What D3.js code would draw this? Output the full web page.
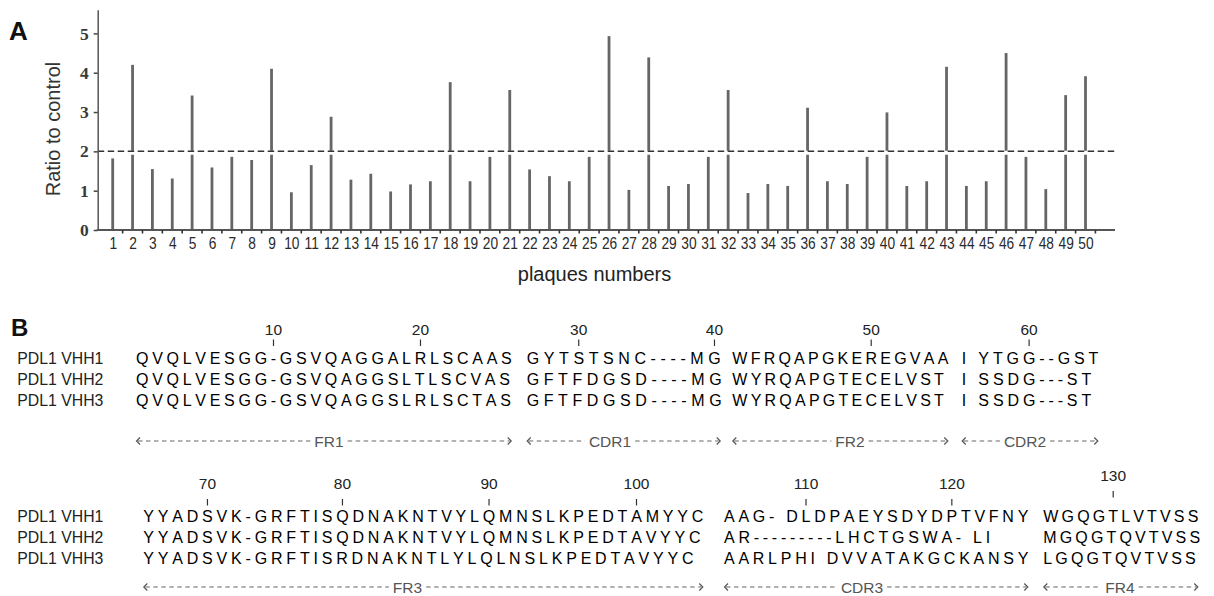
<!DOCTYPE html>
<html>
<head>
<meta charset="utf-8">
<script src="https://cdn.jsdelivr.net/npm/d3@7/dist/d3.min.js"></script>
<style>
  body { margin: 0; background: #fff; }
  svg { display: block; font-family: "Liberation Sans", Arial, sans-serif; }
</style>
</head>
<body>
<svg id="chart" width="1214" height="596"></svg>
<script>
// ---------- Panel A data ----------
const plaques = [1, 2, 3, 4, 5, 6, 7, 8, 9, 10, 11, 12, 13, 14, 15, 16, 17, 18, 19, 20,
  21, 22, 23, 24, 25, 26, 27, 28, 29, 30, 31, 32, 33, 34, 35, 36, 37, 38, 39, 40,
  41, 42, 43, 44, 45, 46, 47, 48, 49, 50];
const ratios = [1.82, 4.20, 1.55, 1.31, 3.42, 1.59, 1.86, 1.78, 4.10, 0.96,
  1.65, 2.88, 1.28, 1.43, 0.98, 1.16, 1.24, 3.76, 1.24, 1.86,
  3.56, 1.54, 1.37, 1.24, 1.86, 4.93, 1.02, 4.39, 1.12, 1.17,
  1.86, 3.56, 0.94, 1.17, 1.12, 3.11, 1.24, 1.17, 1.86, 2.99,
  1.12, 1.24, 4.15, 1.12, 1.24, 4.50, 1.86, 1.04, 3.43, 3.91];
const threshold = 2;
const yTicks = [0, 1, 2, 3, 4, 5];

// ---------- Panel B data ----------
const cloneNames = ["PDL1 VHH1", "PDL1 VHH2", "PDL1 VHH3"];
const regions = ["FR1", "CDR1", "FR2", "CDR2", "FR3", "CDR3", "FR4"];
const regionStart = [1, 27, 41, 56, 66, 105, 126];
const vhh1 = ["QVQLVESGG-GSVQAGGALRLSCAAS", "GYTSTSNC----MG", "WFRQAPGKEREGVAA", "I YTGG--GST",
  "YYADSVK-GRFTISQDNAKNTVYLQMNSLKPEDTAMYYC", "AAG- DLDPAEYSDYDPTVFNY", "WGQGTLVTVSS"];
const vhh2 = ["QVQLVESGG-GSVQAGGSLTLSCVAS", "GFTFDGSD----MG", "WYRQAPGTECELVST", "I SSDG---ST",
  "YYADSVK-GRFTISQDNAKNTVYLQMNSLKPEDTAVYYC", "AR---------LHCTGSWA- LI", "MGQGTQVTVSS"];
const vhh3 = ["QVQLVESGG-GSVQAGGSLRLSCTAS", "GFTFDGSD----MG", "WYRQAPGTECELVST", "I SSDG---ST",
  "YYADSVK-GRFTISRDNAKNTLYLQLNSLKPEDTAVYYC", "AARLPHI DVVATAKGCKANSY", "LGQGTQVTVSS"];
const rulerNumbers = [10, 20, 30, 40, 50, 60, 70, 80, 90, 100, 110, 120, 130];

// ---------- layout ----------
const svg = d3.select("#chart");

// Panel A
const x = d3.scalePoint().domain(plaques).range([112.7, 1085.5]);
const y = d3.scaleLinear().domain([0, 5.6]).range([230, 9.8]);
const axisLeftX = 97.7, axisRightX = 1115;

const gA = svg.append("g");

gA.append("text").attr("x", 9).attr("y", 39.5)
  .attr("font-size", 26).attr("font-weight", "bold").attr("fill", "#111").text("A");

// bars
gA.append("g").selectAll("rect")
  .data(plaques)
  .join("rect")
  .attr("x", d => x(d) - 1.4)
  .attr("width", 2.8)
  .attr("y", (d, i) => y(ratios[i]))
  .attr("height", (d, i) => y(0) - y(ratios[i]))
  .attr("fill", "#666");

// threshold line: white gap then dashes
gA.append("line")
  .attr("x1", axisLeftX + 1.5).attr("x2", axisRightX)
  .attr("y1", y(threshold) + 1.4).attr("y2", y(threshold) + 1.4)
  .attr("stroke", "#fff").attr("stroke-width", 4.2);
gA.append("line")
  .attr("x1", axisLeftX).attr("x2", axisRightX)
  .attr("y1", y(threshold)).attr("y2", y(threshold))
  .attr("stroke", "#333").attr("stroke-width", 1.5)
  .attr("stroke-dasharray", "6.5,3.5");

// y axis
const yAxis = gA.append("g")
  .attr("transform", `translate(${axisLeftX},0)`)
  .call(d3.axisLeft(y).tickValues(yTicks).tickSize(4).tickSizeOuter(0).tickPadding(5).tickFormat(d3.format("d")));
yAxis.select(".domain").attr("stroke", "#555").attr("stroke-width", 1.5);
yAxis.selectAll(".tick line").attr("stroke", "#444").attr("stroke-width", 1.5);
yAxis.selectAll(".tick text")
  .attr("font-family", "'Liberation Serif', 'Times New Roman', serif")
  .attr("font-weight", "bold").attr("font-size", 17.5).attr("fill", "#3a3a3a");

// x axis
gA.append("line")
  .attr("x1", axisLeftX - 1).attr("x2", axisRightX)
  .attr("y1", y(0)).attr("y2", y(0))
  .attr("stroke", "#555").attr("stroke-width", 2);
gA.append("g").selectAll("line")
  .data(plaques)
  .join("line")
  .attr("x1", d => x(d) + x.step() / 2).attr("x2", d => x(d) + x.step() / 2)
  .attr("y1", y(0)).attr("y2", y(0) + 3.5)
  .attr("stroke", "#333").attr("stroke-width", 1.6);

const xAxis = gA.append("g")
  .attr("transform", `translate(0,${y(0)})`)
  .call(d3.axisBottom(x).tickSize(0));
xAxis.select(".domain").remove();
xAxis.selectAll(".tick text")
  .attr("y", 19.5).attr("dy", null)
  .attr("transform", "scale(0.86,1)")
  .attr("font-family", "'Liberation Sans', Arial, sans-serif")
  .attr("font-size", 16).attr("fill", "#2a2a2a");

gA.append("text")
  .attr("transform", "translate(60,129) rotate(-90)")
  .attr("text-anchor", "middle").attr("font-size", 20).attr("fill", "#333")
  .text("Ratio to control");
gA.append("text")
  .attr("x", 594.5).attr("y", 281)
  .attr("text-anchor", "middle").attr("font-size", 20).attr("fill", "#222")
  .text("plaques numbers");

// Panel B
const gB = svg.append("g");
gB.append("text").attr("x", 11).attr("y", 336)
  .attr("font-size", 24).attr("font-weight", "bold").attr("fill", "#111").text("B");

const seqFont = 16;
const lines = [
  { y: 364, rulerY: 335, tick: [339.5, 346], arrowY: 441 },
  { y: 522, rulerY: 489, tick: [499, 505.5], arrowY: 587 }
];
const rowStep = 21;
const blockBox = [
  { line: 0, x0: 136, x1: 511.7, lx: 329 },
  { line: 0, x0: 526.7, x1: 720.7, lx: 610 },
  { line: 0, x0: 732.3, x1: 948.3, lx: 850 },
  { line: 0, x0: 961.7, x1: 1098.3, lx: 1025 },
  { line: 1, x0: 143.3, x1: 703.3, lx: 407.5 },
  { line: 1, x0: 724, x1: 1028.3, lx: 862 },
  { line: 1, x0: 1043.3, x1: 1198.3, lx: 1120 }
];
const rulerNudge = { 130: -8 };

const ctx = document.createElement("canvas").getContext("2d");
ctx.font = `${seqFont}px "Liberation Sans", Arial, sans-serif`;
const charW = c => ctx.measureText(c).width;

const clones = [vhh1, vhh2, vhh3];
const blockChars = []; // non-space chars of row 1 per block, with x positions

regions.forEach((name, b) => {
  const box = blockBox[b];
  const line = lines[box.line];
  const first = clones[0][b];
  const natural = d3.sum(Array.from(first), charW);
  const ls = (box.x1 - box.x0 - natural) / (first.length - 1);

  clones.forEach((rows, r) => {
    const str = rows[b];
    let pos = box.x0;
    const chars = [];
    for (const c of str) {
      const w = charW(c);
      if (c !== " ") chars.push({ c, x: pos, w });
      pos += w + ls;
    }
    if (r === 0) blockChars[b] = chars;
    gB.append("text")
      .attr("x", chars.map(d => d.x.toFixed(2)).join(" "))
      .attr("y", line.y + r * rowStep)
      .attr("font-size", seqFont).attr("fill", "#000")
      .text(chars.map(d => d.c).join(""));
  });

  // region arrow
  const ay = line.arrowY;
  const label = gB.append("text")
    .attr("x", box.lx).attr("y", ay + 5.5)
    .attr("text-anchor", "middle").attr("font-size", 15.5).attr("fill", "#555")
    .text(name);
  const lw = label.node().getComputedTextLength();
  const seg = [[box.x0 + 2, box.lx - lw / 2 - 4], [box.lx + lw / 2 + 4, box.x1 - 2]];
  seg.forEach(([a, c]) => {
    gB.append("line")
      .attr("x1", a).attr("x2", c).attr("y1", ay).attr("y2", ay)
      .attr("stroke", "#666").attr("stroke-width", 1.1)
      .attr("stroke-dasharray", "4.5,3.5");
  });
  gB.append("path")
    .attr("d", `M${box.x0 + 4},${ay - 3.5}L${box.x0 + 0.5},${ay}L${box.x0 + 4},${ay + 3.5}`)
    .attr("fill", "none").attr("stroke", "#555").attr("stroke-width", 1.2);
  gB.append("path")
    .attr("d", `M${box.x1 - 4},${ay - 3.5}L${box.x1 - 0.5},${ay}L${box.x1 - 4},${ay + 3.5}`)
    .attr("fill", "none").attr("stroke", "#555").attr("stroke-width", 1.2);
});

// clone names
lines.forEach(line => {
  gB.append("g").selectAll("text")
    .data(cloneNames)
    .join("text")
    .attr("x", 17.3)
    .attr("y", (d, i) => line.y + i * rowStep)
    .attr("font-size", 15.8).attr("fill", "#222")
    .text(d => d);
});

// ruler
rulerNumbers.forEach(n => {
  const b = d3.bisectRight(regionStart, n) - 1;
  const ch = blockChars[b][n - regionStart[b]];
  const cx = ch.x + ch.w / 2;
  const line = lines[blockBox[b].line];
  const dy = rulerNudge[n] || 0;
  gB.append("text")
    .attr("x", cx).attr("y", line.rulerY + dy)
    .attr("text-anchor", "middle").attr("font-size", 15.5).attr("fill", "#222")
    .text(n);
  gB.append("line")
    .attr("x1", cx).attr("x2", cx)
    .attr("y1", line.tick[0] + dy).attr("y2", line.tick[1] + dy)
    .attr("stroke", "#333").attr("stroke-width", 1.2);
});
</script>
</body>
</html>
